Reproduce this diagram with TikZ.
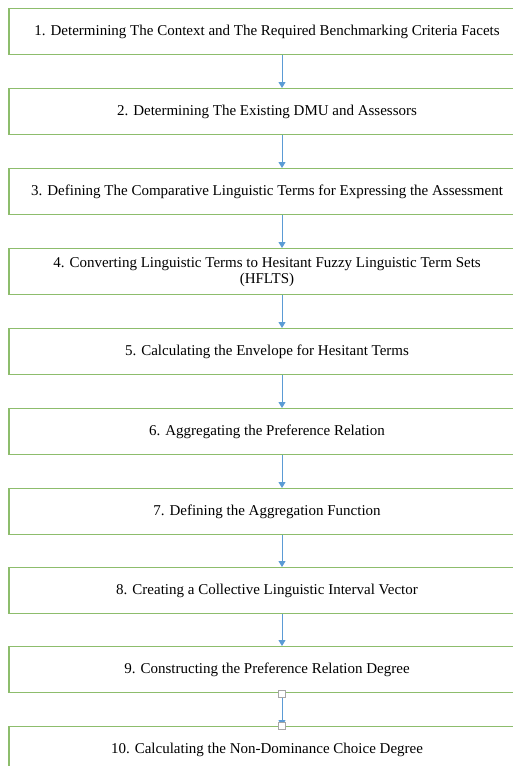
\documentclass[tikz,border=0pt]{standalone}
\usepackage{fontspec}
\setmainfont{Liberation Serif}
\usetikzlibrary{arrows.meta}
\definecolor{boxgreen}{HTML}{70AD47}
\definecolor{arrowblue}{HTML}{5B9BD5}
\tikzset{
  stepbox/.style={draw=boxgreen!80!white, line width=1.3pt, minimum width=516pt, minimum height=46pt, inner sep=0pt, align=center, font=\fontsize{15}{16}\selectfont, anchor=north},
  flow/.style={draw=arrowblue, line width=0.9pt, -{Triangle[length=6pt,width=7pt]}},
  handle/.style={draw=gray!70, fill=white, line width=0.5pt, minimum size=7pt, inner sep=0pt}
}
\begin{document}
\begin{tikzpicture}[x=1pt,y=-1pt]
\useasboundingbox (0,0) rectangle (513,766);
\clip (0,0) rectangle (513,766);
\node[stepbox] (b1) at (267,8) {1. Determining The Context and The Required Benchmarking Criteria Facets};
\node[stepbox] (b2) at (267,88) {2. Determining The Existing DMU and Assessors};
\node[stepbox] (b3) at (267,168) {3. Defining The Comparative Linguistic Terms for Expressing the Assessment};
\node[stepbox] (b4) at (267,248) {4. Converting Linguistic Terms to Hesitant Fuzzy Linguistic Term Sets\\(HFLTS)};
\node[stepbox] (b5) at (267,328) {5. Calculating the Envelope for Hesitant Terms};
\node[stepbox] (b6) at (267,408) {6. Aggregating the Preference Relation};
\node[stepbox] (b7) at (267,488) {7. Defining the Aggregation Function};
\node[stepbox] (b8) at (267,567) {8. Creating a Collective Linguistic Interval Vector};
\node[stepbox] (b9) at (267,646) {9. Constructing the Preference Relation Degree};
\node[stepbox] (b10) at (267,726) {10. Calculating the Non-Dominance Choice Degree};
\foreach \a/\b in {b1/b2,b2/b3,b3/b4,b4/b5,b5/b6,b6/b7,b7/b8,b8/b9,b9/b10}{
  \draw[flow] (\a.south -| 282,0) -- (\b.north -| 282,0);
}
\node[handle] (h1) at (b9.south -| 282,0) {};
\node[handle] (h2) at (b10.north -| 282,0) {};
\end{tikzpicture}
\end{document}
